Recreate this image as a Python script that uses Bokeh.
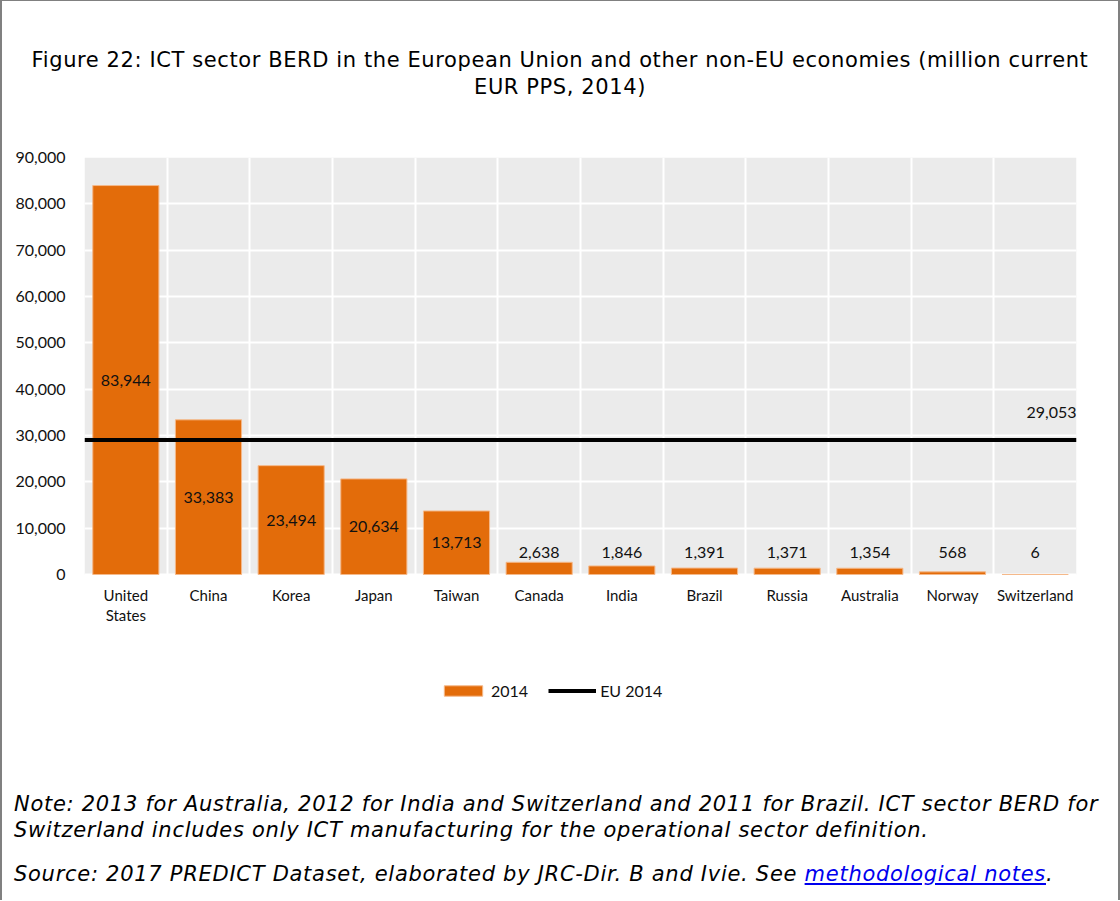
from bokeh.plotting import figure
from bokeh.models import (FixedTicker, LinearAxis, Grid, NumeralTickFormatter, BoxAnnotation,
                          Label, Legend, LegendItem, Range1d, ColumnDataSource, Div)
from bokeh.layouts import column
from bokeh.core.properties import value
from bokeh.embed import file_html
from bokeh.resources import INLINE

# ---------------- data ----------------
categories = ["United\nStates", "China", "Korea", "Japan", "Taiwan", "Canada",
              "India", "Brazil", "Russia", "Australia", "Norway", "Switzerland"]
values_2014 = [83944, 33383, 23494, 20634, 13713, 2638, 1846, 1391, 1371, 1354, 568, 6]
eu_2014 = 29053
y_ticks = [0, 10000, 20000, 30000, 40000, 50000, 60000, 70000, 80000, 90000]
y_max = 90000

title_lines = ["Figure 22: ICT sector BERD in the European Union and other non-EU economies (million current",
               "EUR PPS, 2014)"]
note_lines = ["Note: 2013 for Australia, 2012 for India and Switzerland and 2011 for Brazil. ICT sector BERD for",
              "Switzerland includes only ICT manufacturing for the operational sector definition."]
source_text = "Source: 2017 PREDICT Dataset, elaborated by JRC-Dir. B and Ivie. See "
link_text = "methodological notes"

# ---------------- layout ----------------
ORANGE = "#E36C0A"
LABEL_FONT = "Lato"
TF = "'DejaVu Sans', Verdana, sans-serif"
W = 1116
H_TITLE, H_FIG, H_NOTES = 129, 590, 180
FRAME_TOP, FRAME_BOTTOM = 27, 10          # borders inside the figure
PLOT_PX = 417                             # pixels between 0 and y_max
EXTRA_PX = 136                            # frame pixels below zero (labels + legend)

n = len(categories)
centers = [i + 0.5 for i in range(n)]
label_y = [v / 2 if v > 10000 else 4750 for v in values_2014]
label_txt = [f"{v:,}" for v in values_2014]
y_start = -EXTRA_PX * y_max / PLOT_PX

src = ColumnDataSource(dict(x=centers, top=values_2014, ly=label_y, lt=label_txt,
                            cat=categories, zero=[0] * n))

title_div = Div(width=W, height=H_TITLE, styles={"margin": "0", "padding": "0"}, text=(
    f"<div style=\"margin:0;font-family:{TF};font-size:21px;letter-spacing:0.6px;line-height:27px;color:#000;"
    f"text-align:center;padding-top:46px;white-space:nowrap;width:{W}px\">"
    f"{title_lines[0]}<br>{title_lines[1]}</div>"))

p = figure(width=W, height=H_FIG, output_backend="svg", toolbar_location=None,
           x_range=Range1d(0, n), y_range=Range1d(y_start, y_max),
           x_axis_type=None, y_axis_type=None,
           min_border_left=82, min_border_top=FRAME_TOP, min_border_right=42,
           min_border_bottom=FRAME_BOTTOM)
p.outline_line_color = None
p.background_fill_color = "white"
p.border_fill_color = "white"

# grey plotting area + grids
p.add_layout(BoxAnnotation(left=0, right=n, bottom=0, top=y_max, fill_color="#EBEBEB",
                           fill_alpha=1, line_color=None, level="underlay"))
p.add_layout(Grid(dimension=1, ticker=FixedTicker(ticks=y_ticks),
                  grid_line_color="white", grid_line_width=2))
p.add_layout(Grid(dimension=0, ticker=FixedTicker(ticks=list(range(1, n))),
                  grid_line_color="white", grid_line_width=2))

# y axis
yax = LinearAxis(ticker=FixedTicker(ticks=y_ticks),
                 formatter=NumeralTickFormatter(format="0,0"))
yax.axis_line_color = None
yax.major_tick_line_color = None
yax.minor_tick_line_color = None
yax.major_label_text_font = LABEL_FONT
yax.major_label_text_font_size = "16px"
yax.major_label_text_color = "#111111"
yax.major_label_standoff = 13
p.add_layout(yax, "left")

# category labels under the bars
p.text(x="x", y="zero", text="cat", source=src, text_align="center", text_baseline="top",
       y_offset=11, text_line_height=1.15,
       text_font=value(LABEL_FONT), text_font_size="15px", text_color="#111111")

bars = p.vbar(x="x", top="top", width=0.8, source=src, fill_color=ORANGE,
              line_color="#F5B98A", line_width=1)
p.text(x="x", y="ly", text="lt", source=src, text_align="center", text_baseline="middle",
       text_font=value(LABEL_FONT), text_font_size="16px", text_color="#111111")

eu_line = p.line(x=[0, n], y=[eu_2014, eu_2014], line_color="black", line_width=4)
p.add_layout(Label(x=n, y=eu_2014, text=f"{eu_2014:,}", text_align="right",
                   text_baseline="middle", y_offset=27, x_offset=0,
                   text_font=LABEL_FONT, text_font_size="16px", text_color="#111111"))

legend = Legend(items=[LegendItem(label="2014", renderers=[bars]),
                       LegendItem(label="EU 2014", renderers=[eu_line])],
                location=(355, 10), orientation="horizontal",
                glyph_width=48, glyph_height=13, label_height=20,
                label_standoff=4, spacing=20, padding=0, margin=0,
                background_fill_alpha=0, border_line_color=None,
                label_text_font=LABEL_FONT, label_text_font_size="16px",
                label_text_color="#111111")
p.add_layout(legend, "center")

notes_div = Div(width=W, height=H_NOTES, styles={"margin": "0", "padding": "0"}, text=(
    f"<div style=\"margin:0;font-family:{TF};font-style:italic;font-size:21px;letter-spacing:0.72px;"
    f"line-height:26px;color:#000;padding-left:12px;padding-top:71px;white-space:nowrap\">"
    f"{note_lines[0]}<br>{note_lines[1]}"
    f"<div style=\"margin-top:18px\">{source_text}"
    f"<a href=\"#\" style=\"color:#0000EE;text-decoration:underline\">{link_text}</a>.</div></div>"))

layout = column(title_div, p, notes_div, spacing=0,
                styles={"border-left": "2px solid #808080", "border-top": "1px solid #808080",
                        "border-right": "2px solid #808080"})

with open("out.html", "w") as f:
    f.write(file_html(layout, INLINE))
